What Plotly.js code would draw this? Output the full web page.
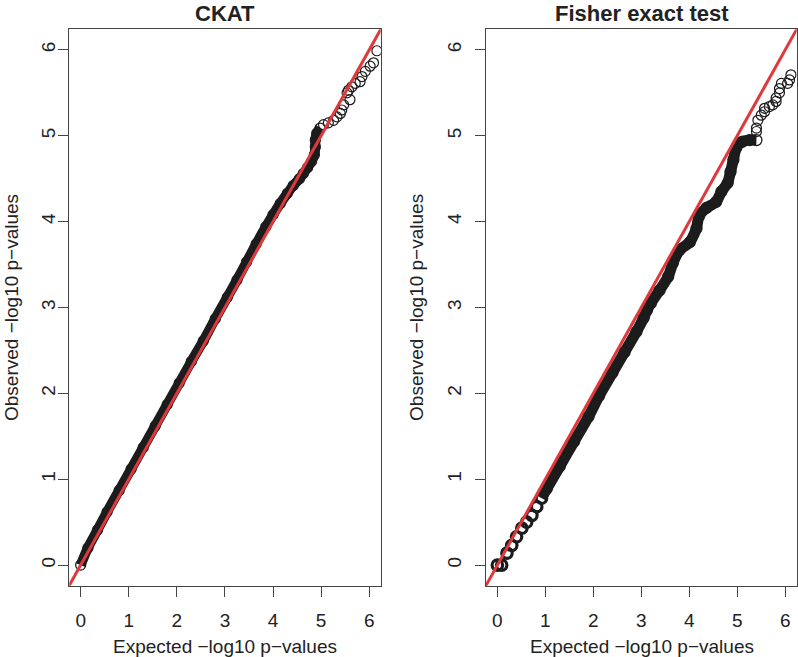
<!DOCTYPE html>
<html>
<head>
<meta charset="utf-8">
<script src="https://cdn.plot.ly/plotly-3.0.1.min.js"></script>
<style>html,body{margin:0;padding:0;background:#fff;}#chart{width:798px;height:657px;}</style>
</head>
<body>
<div id="chart"></div>
<script>
// ---- Data (expected vs observed -log10 p) ----
const panelTitles = ["CKAT", "Fisher exact test"];
const xTitle = "Expected \u2212log10 p\u2212values";
const yTitle = "Observed \u2212log10 p\u2212values";
const tickValues = [0, 1, 2, 3, 4, 5, 6];
const tickLabels = ["0", "1", "2", "3", "4", "5", "6"];

// CKAT: dense part of the QQ curve
const ckatBandX = [0.00, 0.15, 0.35, 0.55, 0.80, 1.05, 1.30, 1.55, 1.80, 2.05, 2.30, 2.55, 2.80, 3.05, 3.25, 3.45, 3.65, 3.85, 4.00, 4.15, 4.30, 4.42, 4.55, 4.63, 4.72, 4.80, 4.86, 4.88, 4.88, 4.91, 4.98];
const ckatBandY = [0.00, 0.20, 0.41, 0.62, 0.87, 1.12, 1.37, 1.62, 1.87, 2.12, 2.37, 2.61, 2.87, 3.12, 3.32, 3.53, 3.74, 3.94, 4.08, 4.21, 4.33, 4.42, 4.50, 4.56, 4.63, 4.70, 4.78, 4.87, 4.95, 5.03, 5.09];
// CKAT: sparse tail points
const ckatTailX = [5.05, 5.15, 5.26, 5.33, 5.40, 5.43, 5.47, 5.60, 5.54, 5.57, 5.64, 5.71, 5.81, 5.85, 5.92, 6.02, 6.09, 6.16];
const ckatTailY = [5.13, 5.15, 5.18, 5.22, 5.26, 5.30, 5.36, 5.42, 5.50, 5.53, 5.57, 5.61, 5.63, 5.69, 5.75, 5.81, 5.85, 5.99];

// Fisher: discrete low steps
const fisherLowX = [0.00, 0.09, 0.20, 0.30, 0.40, 0.51, 0.61, 0.72, 0.82, 0.92];
const fisherLowY = [0.00, 0.00, 0.14, 0.23, 0.33, 0.43, 0.50, 0.58, 0.68, 0.78];
// Fisher: dense part
const fisherBandX = [0.92, 1.03, 1.30, 1.60, 1.90, 2.12, 2.40, 2.65, 2.90, 3.05, 3.12, 3.20, 3.38, 3.56, 3.66, 3.80, 4.01, 4.15, 4.20, 4.36, 4.56, 4.67, 4.80, 4.86, 4.92, 4.98, 5.10, 5.26, 5.40];
const fisherBandY = [0.78, 0.89, 1.15, 1.44, 1.73, 1.97, 2.24, 2.48, 2.72, 2.88, 2.97, 3.05, 3.20, 3.36, 3.52, 3.67, 3.76, 3.92, 4.06, 4.16, 4.23, 4.35, 4.45, 4.58, 4.72, 4.86, 4.93, 4.95, 4.95];
// Fisher: sparse tail points
const fisherTailX = [5.40, 5.40, 5.43, 5.50, 5.57, 5.57, 5.67, 5.74, 5.81, 5.81, 5.88, 5.88, 5.92, 6.05, 6.09, 6.12];
const fisherTailY = [5.05, 5.09, 5.18, 5.24, 5.28, 5.32, 5.34, 5.36, 5.40, 5.44, 5.50, 5.55, 5.61, 5.61, 5.65, 5.71];

// Reference line y = x (drawn across the whole plot, clipped)
const refLineX = [-1, 7];
const refLineY = [-1, 7];

// ---- Styling ----
const ink = "#1c1c1c";
const red = "#DF383D";
const font = "Liberation Sans, Arial, Helvetica, sans-serif";
const circle = (w, s) => ({symbol: "circle-open", size: s || 10, color: ink, line: {width: w, color: ink}});

function panelTraces(xa, ya, low, band, tail, bandWidth) {
  const out = [];
  if (low) out.push({x: low[0], y: low[1], xaxis: xa, yaxis: ya, type: "scatter", mode: "markers",
    marker: circle(3.2, 10.5), hoverinfo: "skip", showlegend: false});
  out.push({x: band[0], y: band[1], xaxis: xa, yaxis: ya, type: "scatter", mode: "lines+markers",
    line: {color: ink, width: bandWidth, shape: "spline", smoothing: 0.6}, marker: circle(1.3, bandWidth),
    hoverinfo: "skip", showlegend: false});
  out.push({x: tail[0], y: tail[1], xaxis: xa, yaxis: ya, type: "scatter", mode: "markers",
    marker: circle(1.2), hoverinfo: "skip", showlegend: false});
  out.push({x: refLineX, y: refLineY, xaxis: xa, yaxis: ya, type: "scatter", mode: "lines",
    line: {color: red, width: 3}, hoverinfo: "skip", showlegend: false});
  return out;
}

const data = [
  ...panelTraces("x", "y", null, [ckatBandX, ckatBandY], [ckatTailX, ckatTailY], 10),
  ...panelTraces("x2", "y2", [fisherLowX, fisherLowY], [fisherBandX, fisherBandY], [fisherTailX, fisherTailY], 11)
];

const axisBase = {
  tickmode: "array", tickvals: tickValues, ticktext: tickLabels,
  ticks: "outside", ticklen: 10, tickwidth: 1, tickcolor: "#444",
  showline: true, mirror: true, linecolor: "#444", linewidth: 1,
  showgrid: false, zeroline: false, fixedrange: true,
  tickfont: {family: font, size: 19, color: "#222"}
};
const xr = [-0.237, 6.24];
const yr = [-0.24, 6.24];

const yDom = [0.1085, 0.9554];
const titleFont = {family: font, size: 22, color: "#222"};
const labelFont = {family: font, size: 19, color: "#222"};
const layout = {
  width: 798, height: 657,
  margin: {l: 0, r: 0, t: 0, b: 0},
  paper_bgcolor: "#fff", plot_bgcolor: "#fff",
  showlegend: false,
  xaxis: Object.assign({}, axisBase, {domain: [0.0868, 0.4771], range: xr, anchor: "y", ticklabelstandoff: 7}),
  yaxis: Object.assign({}, axisBase, {domain: yDom, range: yr, anchor: "x", tickangle: -90, ticklabelstandoff: -4}),
  xaxis2: Object.assign({}, axisBase, {domain: [0.609, 0.9984], range: xr, anchor: "y2", ticklabelstandoff: 7}),
  yaxis2: Object.assign({}, axisBase, {domain: yDom, range: yr, anchor: "x2", tickangle: -90, ticklabelstandoff: 6}),
  annotations: [
    {text: "<b>" + panelTitles[0] + "</b>", xref: "paper", yref: "paper", x: 0.2819, y: 1, xanchor: "center", yanchor: "top", borderpad: 0, showarrow: false, font: titleFont},
    {text: "<b>" + panelTitles[1] + "</b>", xref: "paper", yref: "paper", x: 0.8050, y: 1, xanchor: "center", yanchor: "top", borderpad: 0, showarrow: false, font: titleFont},
    {text: xTitle, xref: "paper", yref: "paper", x: 0.2819, y: 0.0157, xanchor: "center", yanchor: "middle", showarrow: false, font: labelFont},
    {text: xTitle, xref: "paper", yref: "paper", x: 0.8050, y: 0.0157, xanchor: "center", yanchor: "middle", showarrow: false, font: labelFont},
    {text: yTitle, xref: "paper", yref: "paper", x: 0, y: 0.532, xanchor: "left", yanchor: "middle", borderpad: 0, textangle: -90, showarrow: false, font: labelFont},
    {text: yTitle, xref: "paper", yref: "paper", x: 0.5075, y: 0.532, xanchor: "left", yanchor: "middle", borderpad: 0, textangle: -90, showarrow: false, font: labelFont}
  ]
};

Plotly.newPlot("chart", data, layout, {staticPlot: true, displayModeBar: false});
</script>
</body>
</html>
